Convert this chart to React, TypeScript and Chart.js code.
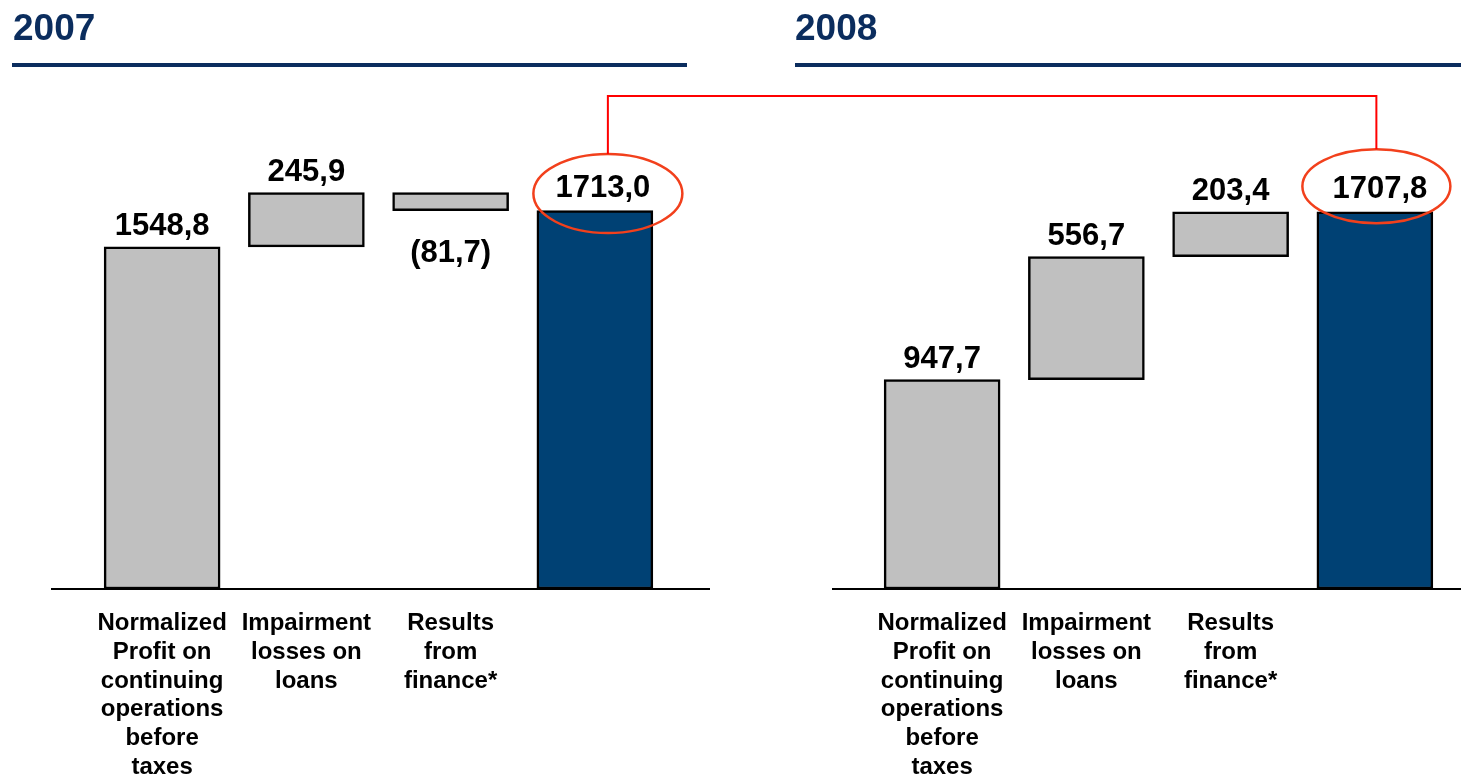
import React, { useEffect, useRef } from "react";
import { Chart, registerables } from "chart.js";

Chart.register(...registerables);

// ---- data ----
const categories: (string | string[])[] = [
  ["Normalized", "Profit on", "continuing", "operations", "before", "taxes"],
  ["Impairment", "losses on", "loans"],
  ["Results", "from", "finance*"],
  "",
];
const steps2007 = [1548.8, 245.9, -81.7];
const total2007 = 1713.0;
const steps2008 = [947.7, 556.7, 203.4];
const total2008 = 1707.8;
const yMax = 2200;

// ---- styles ----
const NAVY = "#0b2d5e";
const BAR_BLUE = "#004174";
const GRAY = "#c0c0c0";
const RED_LINE = "#ff0000";
const ELLIPSE = "#f2401c";
const FONT = '"Liberation Sans", Arial, Helvetica, sans-serif';

function buildRanges(steps: number[], total: number): [number, number][] {
  const out: [number, number][] = [];
  let run = 0;
  for (const s of steps) {
    const next = run + s;
    out.push([Math.min(run, next), Math.max(run, next)]);
    run = next;
  }
  out.push([0, total]);
  return out;
}

function fmt(v: number) {
  const s = Math.abs(v).toFixed(1).replace(".", ",");
  return v < 0 ? `(${s})` : s;
}

const decor = {
  id: "decor",
  afterDraw(chart: any, _args: any, opts: any) {
    const { ctx, chartArea } = chart;
    const meta = chart.getDatasetMeta(0);
    ctx.save();
    // title + rule
    ctx.fillStyle = NAVY;
    ctx.font = `bold 37px ${FONT}`;
    ctx.textAlign = "left";
    ctx.textBaseline = "alphabetic";
    ctx.fillText(opts.title, opts.titleX, 40);
    ctx.fillRect(opts.ruleX0, 63, opts.ruleX1 - opts.ruleX0, 4);
    // baseline
    ctx.strokeStyle = "#000";
    ctx.lineWidth = 2;
    ctx.beginPath();
    ctx.moveTo(opts.baseX0, chartArea.bottom);
    ctx.lineTo(opts.baseX1, chartArea.bottom);
    ctx.stroke();
    // value labels
    ctx.font = `bold 31px ${FONT}`;
    ctx.textAlign = "center";
    const values: number[] = opts.values;
    meta.data.forEach((bar: any, i: number) => {
      const { x, y, base } = bar.getProps(["x", "y", "base"], true);
      const top = Math.min(y, base);
      const bottom = Math.max(y, base);
      const v = values[i];
      const isTotal = i === values.length - 1;
      const lx = x + (isTotal ? opts.totalDx : 0);
      ctx.fillStyle = "#000";
      if (v < 0) ctx.fillText(fmt(v), lx, bottom + 51);
      else ctx.fillText(fmt(v), lx, top - (isTotal ? 14 : 12));
      if (isTotal) {
        const cx = x + opts.ellDx;
        const cy = top + opts.ellDy;
        ctx.strokeStyle = ELLIPSE;
        ctx.lineWidth = 2.5;
        ctx.beginPath();
        ctx.ellipse(cx, cy, opts.rx, opts.ry, 0, 0, Math.PI * 2);
        ctx.stroke();
        // connector
        ctx.strokeStyle = RED_LINE;
        ctx.lineWidth = 2;
        ctx.beginPath();
        if (opts.connector === "right") {
          ctx.moveTo(cx, cy - opts.ry);
          ctx.lineTo(cx, 96);
          ctx.lineTo(chart.width, 96);
        } else {
          ctx.moveTo(0, 96);
          ctx.lineTo(cx, 96);
          ctx.lineTo(cx, cy - opts.ry);
        }
        ctx.stroke();
      }
    });
    ctx.restore();
  },
};

function makeConfig(steps: number[], total: number, decorOpts: any, padRight: number): any {
  const ranges = buildRanges(steps, total);
  const colors = ranges.map((_, i) => (i === ranges.length - 1 ? BAR_BLUE : GRAY));
  return {
    type: "bar",
    data: {
      labels: categories,
      datasets: [
        {
          data: ranges,
          backgroundColor: colors,
          borderColor: "#000",
          borderWidth: 2.5,
          borderSkipped: false,
          barThickness: 116,
        },
      ],
    },
    options: {
      animation: false,
      responsive: false,
      events: [],
      layout: { padding: { top: 103, left: 90, right: padRight, bottom: 0 } },
      plugins: {
        legend: { display: false },
        tooltip: { enabled: false },
        title: { display: false },
        decor: { ...decorOpts, values: [...steps, total] },
      },
      scales: {
        x: {
          type: "category",
          offset: true,
          grid: { display: false, drawTicks: false },
          border: { display: false },
          ticks: {
            autoSkip: false,
            maxRotation: 0,
            minRotation: 0,
            padding: 20,
            color: "#000",
            font: { family: FONT, size: 24, weight: "bold", lineHeight: 1.2 },
          },
          afterFit: (axis: any) => {
            axis.height = 189;
          },
        },
        y: {
          display: false,
          min: 0,
          max: yMax,
        },
      },
    },
    plugins: [decor],
  };
}

function Panel({ left, width, steps, total, decorOpts, padRight }: any) {
  const ref = useRef<HTMLCanvasElement | null>(null);
  useEffect(() => {
    if (!ref.current) return;
    const chart = new Chart(ref.current, makeConfig(steps, total, decorOpts, padRight));
    return () => chart.destroy();
  }, []);
  return (
    <canvas
      ref={ref}
      width={width}
      height={778}
      style={{ position: "absolute", left, top: 0, width, height: 778 }}
    />
  );
}

export default function App() {
  return (
    <div style={{ position: "absolute", left: 0, top: 0, width: 1461, height: 778, background: "#fff", overflow: "hidden" }}>
      <Panel
        left={0}
        width={780}
        steps={steps2007}
        total={total2007}
        padRight={113}
        decorOpts={{
          title: "2007",
          titleX: 13,
          ruleX0: 12,
          ruleX1: 687,
          baseX0: 51,
          baseX1: 710,
          totalDx: 8,
          ellDx: 13,
          ellDy: -17,
          rx: 74.5,
          ry: 39.5,
          connector: "right",
        }}
      />
      <Panel
        left={780}
        width={681}
        steps={steps2008}
        total={total2008}
        padRight={14}
        decorOpts={{
          title: "2008",
          titleX: 15,
          ruleX0: 15,
          ruleX1: 681,
          baseX0: 52,
          baseX1: 681,
          totalDx: 5,
          ellDx: 1.5,
          ellDy: -25.5,
          rx: 74,
          ry: 37,
          connector: "left",
        }}
      />
    </div>
  );
}
